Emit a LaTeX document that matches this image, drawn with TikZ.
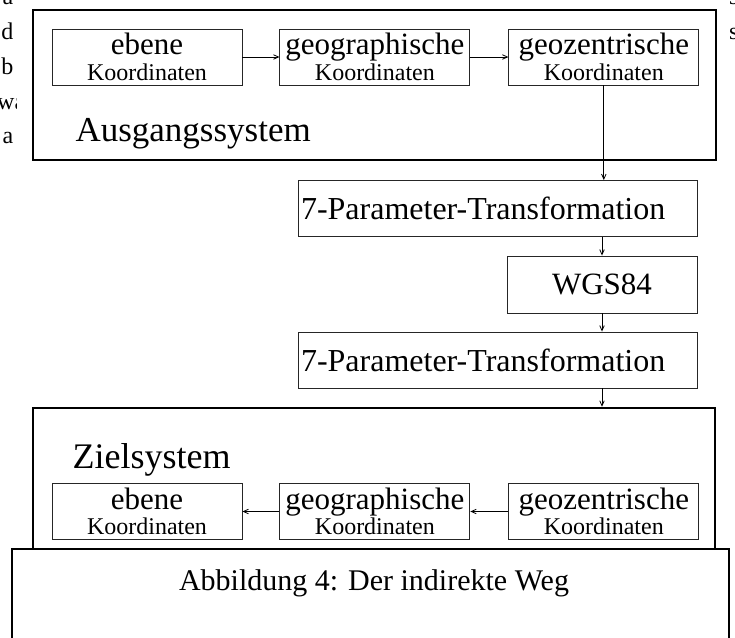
\documentclass[tikz,border=0pt]{standalone}
\usepackage{fontspec}
\setmainfont{Liberation Serif}
\usetikzlibrary{positioning,arrows.meta}
\newcommand{\engzeile}{\lineskiplimit-30pt\relax}

\begin{document}
\begin{tikzpicture}[x=1pt, y=-1pt, node distance=37pt,
  main/.style={draw=black!85, line width=0.9pt, minimum width=190pt, minimum height=56pt,
    inner sep=0pt, align=center, font=\fontsize{24}{25.5}\selectfont\engzeile},
  wide/.style={main, minimum width=399pt, text width=393pt, align=left,
    font=\fontsize{32}{34}\selectfont},
  frame/.style={draw, line width=2.6pt, inner sep=0pt},
  big/.style={anchor=base west, font=\fontsize{35}{35}\selectfont},
  pfeil/.style={-{Straight Barb[length=5pt,width=4.5pt]}, line width=0.8pt}]
\useasboundingbox (0,0) rectangle (735,637);
% Ausgangssystem
\node[frame, minimum width=683pt, minimum height=150pt] (aus) at (374.5,85) {};
\node[main] (eb1) at (147,57) {{\fontsize{31}{25.5}\selectfont ebene}\\Koordinaten};
\node[main] (geo1) [right=of eb1] {{\fontsize{31}{25.5}\selectfont geographische}\\Koordinaten};
\node[main] (gez1) [right=38pt of geo1] {{\fontsize{31}{25.5}\selectfont geozentrische}\\Koordinaten};
\node[big] (ausl) at (72,141) {Ausgangssystem};
% Transformation
\node[wide] (t1) at (497.5,208.5) {7-Parameter-Transformation};
\node[main, minimum height=57pt, font=\fontsize{31}{31}\selectfont] (wgs) at (602,284.5) {WGS84};
\node[wide] (t2) at (497.5,360) {7-Parameter-Transformation};
% Zielsystem
\node[frame, minimum width=682pt, minimum height=152pt] (ziel) at (374,484) {};
\node[big, font=\fontsize{36}{36}\selectfont] (ziell) at (69,468) {Zielsystem};
\node[main] (eb2) at (147,511.5) {{\fontsize{31}{25.5}\selectfont ebene}\\Koordinaten};
\node[main] (geo2) [right=of eb2] {{\fontsize{31}{25.5}\selectfont geographische}\\Koordinaten};
\node[main] (gez2) [right=38pt of geo2] {{\fontsize{31}{25.5}\selectfont geozentrische}\\Koordinaten};
% Verbindungen
\draw[pfeil] (eb1) -- (geo1);
\draw[pfeil] (geo1) -- (gez1);
\draw[pfeil] (gez1) -- (t1.north -| gez1.south);
\draw[pfeil] (t1.south -| wgs.north) -- (wgs);
\draw[pfeil] (wgs) -- (t2.north -| wgs.south);
\draw[pfeil] (t2.south -| wgs.south) -- (ziel.north -| wgs.south);
\draw[pfeil] (gez2) -- (geo2);
\draw[pfeil] (geo2) -- (eb2);
% Bildunterschrift
\node[draw, fill=white, line width=1.6pt, minimum width=717pt, minimum height=110pt] (capbox) at (370.5,604) {};
\node[font=\fontsize{30}{30}\selectfont] (cap) at (374,583) {Abbildung 4: Der indirekte Weg};
% Textreste am Rand
\begin{scope}
\clip (0,0) rectangle (16,160);
\foreach \t/\y in {a/5, d/39, b/74, a/143}
  \node[anchor=base east, inner sep=0pt, font=\fontsize{24}{24}\selectfont] at (13.5,\y) {\t};
\node[anchor=base west, inner sep=0pt, font=\fontsize{24}{24}\selectfont] at (-3,109) {wa};
\end{scope}
\foreach \y in {5, 39}
  \node[anchor=base west, inner sep=0pt, font=\fontsize{24}{24}\selectfont] at (729,\y) {s};
\end{tikzpicture}
\end{document}
